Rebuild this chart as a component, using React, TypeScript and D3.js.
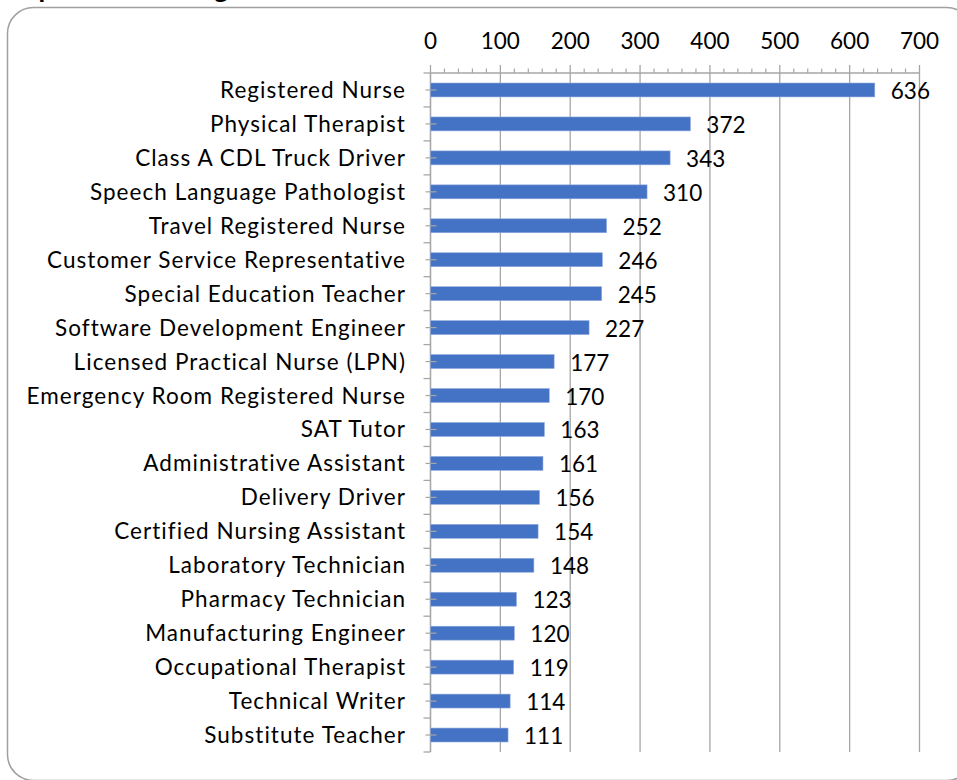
import React from "react";
import * as d3 from "d3";

const categories = [
  "Registered Nurse",
  "Physical Therapist",
  "Class A CDL Truck Driver",
  "Speech Language Pathologist",
  "Travel Registered Nurse",
  "Customer Service Representative",
  "Special Education Teacher",
  "Software Development Engineer",
  "Licensed Practical Nurse (LPN)",
  "Emergency Room Registered Nurse",
  "SAT Tutor",
  "Administrative Assistant",
  "Delivery Driver",
  "Certified Nursing Assistant",
  "Laboratory Technician",
  "Pharmacy Technician",
  "Manufacturing Engineer",
  "Occupational Therapist",
  "Technical Writer",
  "Substitute Teacher",
];
const values = [636, 372, 343, 310, 252, 246, 245, 227, 177, 170, 163, 161, 156, 154, 148, 123, 120, 119, 114, 111];
const xTicks = [0, 100, 200, 300, 400, 500, 600, 700];
const titleText = "Top 20 Jobs in Highest Demand";

const W = 957;
const H = 780;
const FONT = "Lato, 'Open Sans', sans-serif";

export default function App() {
  const x = d3.scaleLinear().domain([0, 700]).range([430.5, 919.5]);
  const y = d3.scaleBand<string>().domain(categories).range([73, 752]).paddingInner(0.59).paddingOuter(0.295);
  const step = y.step();
  const top = 73;
  const bottom = 752;
  const minorTicks = d3.range(0, 701, 20).filter((v) => v % 100 !== 0);
  const grid = "#a6a6a6";
  const noLig = { fontVariantLigatures: "none" as const };

  return (
    <div style={{ position: "fixed", left: 0, top: 0 }}>
      <svg width={W} height={H} style={{ display: "block" }}>
        <rect x={0} y={0} width={W} height={H} fill="#fff" />
        <text x={10} y={-2} fontFamily={FONT} fontWeight={700} fontSize={27} fill="#000">
          {titleText}
        </text>
        <rect x={7.5} y={7.5} width={965} height={773} rx={26} ry={26} fill="#fff" stroke="#a0a0a0" strokeWidth={1.5} />
        {/* gridlines */}
        {xTicks.map((t) => (
          <line key={"g" + t} x1={x(t)} x2={x(t)} y1={top - 8} y2={bottom} stroke={grid} strokeWidth={1.3} />
        ))}
        {/* minor ticks top axis */}
        {minorTicks.map((t) => (
          <line key={"m" + t} x1={x(t)} x2={x(t)} y1={top - 4.5} y2={top} stroke={grid} strokeWidth={1.2} />
        ))}
        {/* top axis line */}
        <line x1={x(0)} x2={x(700)} y1={top} y2={top} stroke={grid} strokeWidth={1.3} />
        {/* tick labels */}
        {xTicks.map((t) => (
          <text key={"t" + t} x={x(t)} y={49} textAnchor="middle" fontFamily={FONT} fontSize={22.5} fill="#000">
            {t}
          </text>
        ))}
        {/* category axis line */}
        <line x1={x(0)} x2={x(0)} y1={top} y2={bottom} stroke={grid} strokeWidth={1.3} />
        {/* boundary ticks */}
        {d3.range(0, categories.length + 1).map((i) => (
          <line key={"b" + i} x1={x(0) - 7} x2={x(0)} y1={top + i * step} y2={top + i * step} stroke={grid} strokeWidth={1.3} />
        ))}
        {/* bars */}
        {categories.map((c, i) => (
          <rect key={"r" + c} x={x(0)} y={y(c)!} width={x(values[i]) - x(0)} height={y.bandwidth()} fill="#4472C4" stroke="#8faadc" strokeWidth={0.6} />
        ))}
        {/* center ticks */}
        {categories.map((c) => (
          <line key={"c" + c} x1={x(0) - 5} x2={x(0) + 6} y1={y(c)! + y.bandwidth() / 2} y2={y(c)! + y.bandwidth() / 2} stroke={grid} strokeWidth={1.2} />
        ))}
        {/* category labels */}
        {categories.map((c) => (
          <text key={"l" + c} x={406} y={y(c)! + y.bandwidth() / 2 + 8} textAnchor="end" fontFamily={FONT} fontSize={22.5} letterSpacing={1.05} style={noLig} fill="#000">
            {c}
          </text>
        ))}
        {/* value labels */}
        {categories.map((c, i) => (
          <text key={"v" + c} x={x(values[i]) + 16} y={y(c)! + y.bandwidth() / 2 + 9} textAnchor="start" fontFamily={FONT} fontSize={22.5} fill="#000">
            {values[i]}
          </text>
        ))}
      </svg>
    </div>
  );
}
